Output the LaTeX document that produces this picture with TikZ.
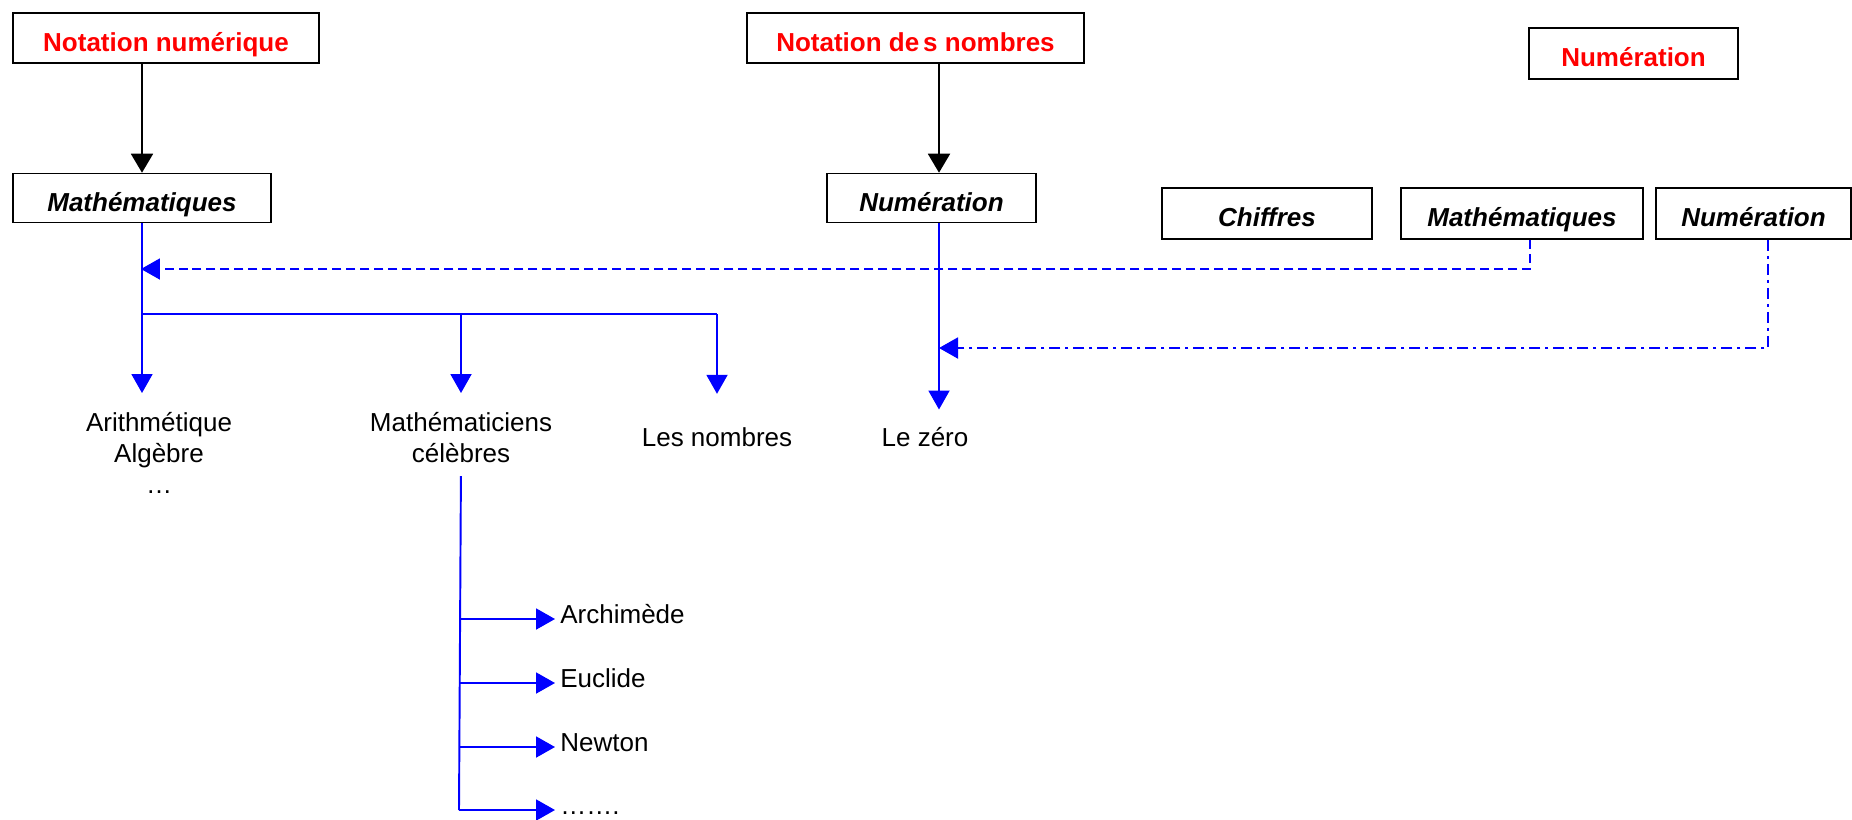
\documentclass[tikz,border=0pt]{standalone}
\usepackage{fontspec}
\setmainfont{Liberation Sans}
\usetikzlibrary{arrows.meta}

\begin{document}
\begin{tikzpicture}[x=0.02cm, y=-0.02cm]
      \tikzstyle{STY1} = [draw, rectangle, line width=0.9pt, minimum height=1cm, inner sep=0pt, text height=0.52cm, text depth=0cm, text=red, font=\fontsize{14.8}{17.6}\selectfont\bfseries]
      \tikzstyle{STY2} = [draw, rectangle, line width=0.9pt, minimum height=0.98cm, inner sep=0pt, text height=0.52cm, text depth=0cm, font=\fontsize{14.8}{17.6}\selectfont\bfseries\itshape]
      \tikzstyle{STY3} = [inner sep=0pt, align=center, font=\fontsize{14.8}{17.6}\selectfont]
      \tikzstyle{STY4} = [-{Triangle[length=0.38cm, width=0.44cm]}, line width=1.1pt]
      \tikzstyle{STY5} = [blue, line width=1.1pt]
      \tikzstyle{STY6} = [STY5, -{Triangle[length=0.38cm, width=0.42cm]}]
      \tikzstyle{STY7} = [STY6, dash pattern=on 0.18cm off 0.1cm]
      \tikzstyle{STY8} = [STY6, dash pattern=on 0.22cm off 0.1cm on 0.06cm off 0.1cm]

      \useasboundingbox (0,0) rectangle (1852,819);

      %%%%% BOXES

      \node[STY1, minimum width=6.12cm](v1) at (166, 38) {Notation numérique};
      \node[STY2, minimum width=5.16cm](v2) at (142, 198) {Mathématiques};

      \node[STY1, minimum width=6.74cm](v3) at (915.5, 38) {Notation de\kern0.15em s nombres};
      \node[STY2, minimum width=4.18cm](v4) at (931.5, 198) {Numération};

      \node[STY1, minimum width=4.18cm, minimum height=1.02cm](v5) at (1633.5, 53.5) {Numération};

      \node[STY2, minimum width=4.2cm, minimum height=1.02cm](v6) at (1267, 213.5) {Chiffres};
      \node[STY2, minimum width=4.84cm, minimum height=1.02cm](v7) at (1522, 213.5) {Mathématiques};
      \node[STY2, minimum width=3.9cm, minimum height=1.02cm](v8) at (1753.5, 213.5) {Numération};

      %%%%% LABELS

      \node[STY3, anchor=north](v9) at (159, 412) {Arithmétique\\Algèbre\\…};
      \node[STY3, anchor=north](v10) at (461, 412) {Mathématiciens\\célèbres};
      \node[STY3, anchor=base](v11) at (717, 446) {Les nombres};
      \node[STY3, anchor=base](v12) at (925, 446) {Le zéro};

      \node[STY3, anchor=base west](v13) at (560, 623) {Archimède};
      \node[STY3, anchor=base west](v14) at (560, 687) {Euclide};
      \node[STY3, anchor=base west](v15) at (560, 751) {Newton};
      \node[STY3, anchor=base west](v16) at (560, 814) {…….};

      \coordinate (c1) at (141, 269);
      \coordinate (c2) at (939, 348);
      \coordinate (c3) at (141, 314);
      \coordinate (c4) at (459, 619);
      \coordinate (c5) at (459, 683);
      \coordinate (c6) at (459, 747);
      \coordinate (c7) at (459, 810);

      %%%%% EDGES

      \draw[STY4]  (v1.south -| v2.north) -- (v2.north);
      \draw[STY4]  ([xshift=0.15cm]v4.north |- v3.south) -- ([xshift=0.15cm]v4.north);

      \draw[STY6, shorten >=0.38cm]  (v2.south) -- (v2.south |- v9.north);
      \draw[STY5]  (c3) -- (c3 -| v11.north);
      \draw[STY6, shorten >=0.38cm]  (c3 -| v10.north) -- (v10.north);
      \draw[STY6, shorten >=0.66cm]  (c3 -| v11.north) -- (v11.north);
      \draw[STY6, shorten >=0.34cm]  ([xshift=0.15cm]v4.south) -- ([xshift=0.15cm]v4.south |- v12.north);

      \draw[STY7]  ([xshift=0.16cm]v7.south) |- (c1);
      \draw[STY8]  ([xshift=0.29cm]v8.south) |- (c2);

      \draw[STY5, shorten <=0.26cm]  (v10.south) -- (c7);
      \draw[STY6, shorten >=0.1cm]  (c4) -- (c4 -| v13.west);
      \draw[STY6, shorten >=0.1cm]  (c5) -- (c5 -| v14.west);
      \draw[STY6, shorten >=0.1cm]  (c6) -- (c6 -| v15.west);
      \draw[STY6, shorten >=0.1cm]  (c7) -- (c7 -| v16.west);
    \end{tikzpicture}
\end{document}
